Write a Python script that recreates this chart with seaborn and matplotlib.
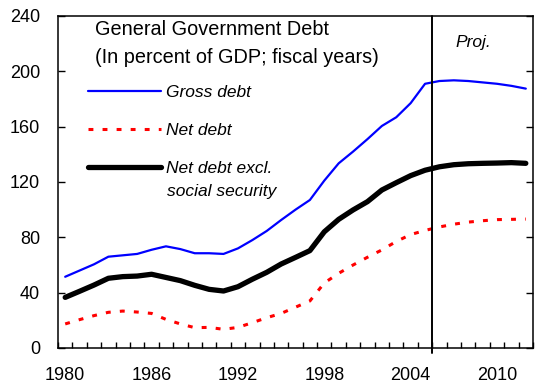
import matplotlib.pyplot as plt
import numpy as np
import pandas as pd
import seaborn as sns

sns.set_style("ticks")
plt.rcParams["font.family"] = ["Liberation Sans", "DejaVu Sans"]
for key in ["text.color", "axes.labelcolor", "xtick.color", "ytick.color", "axes.edgecolor"]:
    plt.rcParams[key] = "black"

# data (percent of GDP, fiscal years)
years = list(range(1980, 2013))
gross_debt = [51.5, 56, 60.5, 66, 67, 68, 71, 73.5, 71.5, 68.5, 68.5, 68, 72, 78, 84.6,
              92.5, 100, 107, 121, 133.5, 142, 151, 160.5, 166.8, 177, 191, 193, 193.5,
              193, 192, 191, 189.5, 187.5]
net_debt = [17.4, 20.5, 23.4, 25.8, 26.7, 26, 25, 20.7, 17.4, 14.7, 14.9, 13.5, 14.9, 18.3,
            21.9, 25, 29.5, 34, 47, 54, 60, 65.6, 70.9, 77, 82, 85, 87.5, 89.5, 91, 92,
            92.8, 93, 93.2]
net_debt_excl_ss = [36.6, 41, 45.5, 50.4, 51.6, 52, 53.3, 51, 48.7, 45.3, 42.4, 41.2, 44.3,
                    49.7, 54.7, 60.7, 65.5, 70.4, 84, 93, 99.8, 105.8, 114.2, 119.5, 124.6,
                    128.5, 131, 132.5, 133.2, 133.5, 133.7, 134, 133.5]
proj_start = 2005.5
year_labels = [1980, 1986, 1992, 1998, 2004, 2010]
y_ticks = [0, 40, 80, 120, 160, 200, 240]

df = pd.DataFrame({"Year": years, "Gross": gross_debt, "Net": net_debt,
                   "Excl": net_debt_excl_ss})

fig = plt.figure(figsize=(5.47, 3.83), dpi=100)
ax = fig.add_axes([58 / 547, 35 / 383, 475 / 547, 332 / 383])

sns.lineplot(data=df, x="Year", y="Gross", ax=ax, color="#0000FF", lw=1.6,
             label="Gross debt")
sns.lineplot(data=df, x="Year", y="Net", ax=ax, color="#FF0000", lw=2.2,
             label="Net debt")
ax.lines[-1].set_dashes((1.6, 3.0))
sns.lineplot(data=df, x="Year", y="Excl", ax=ax, color="black", lw=3.8,
             label="Net debt excl.")

ax.axvline(proj_start, color="black", lw=1.4, ymin=-0.016, clip_on=False)
ax.text(2007.1, 221, "Proj.", style="italic", fontsize=12.5, va="center")

ax.text(0.078, 0.988, "General Government Debt\n(In percent of GDP; fiscal years)",
        transform=ax.transAxes, fontsize=14.3, va="top", linespacing=1.6)

ax.set_xlim(1979.5, 2012.5)
ax.set_ylim(0, 240)
ax.set_xticks(year_labels)
ax.set_xticks(np.arange(1979.5, 2013, 1), minor=True)
ax.set_yticks(y_ticks)
ax.tick_params(axis="x", which="major", length=0, pad=14, labelsize=13)
ax.tick_params(axis="x", which="minor", direction="in", length=4, width=1)
ax.tick_params(axis="y", direction="in", length=5, width=1, right=True,
               pad=13, labelsize=13)
ax.set_xlabel("")
ax.set_ylabel("")
for s in ax.spines.values():
    s.set_linewidth(1.1)

ax.legend(loc="upper left", bbox_to_anchor=(0.031, 0.839), frameon=False,
          handlelength=4.2, handletextpad=0.25, labelspacing=1.32,
          prop={"style": "italic", "size": 12.5})
# second line of the last legend label
ax.text(0.229, 0.47, "social security", transform=ax.transAxes, style="italic",
        fontsize=12.5, va="center")

plt.savefig("out.png", dpi=100)
